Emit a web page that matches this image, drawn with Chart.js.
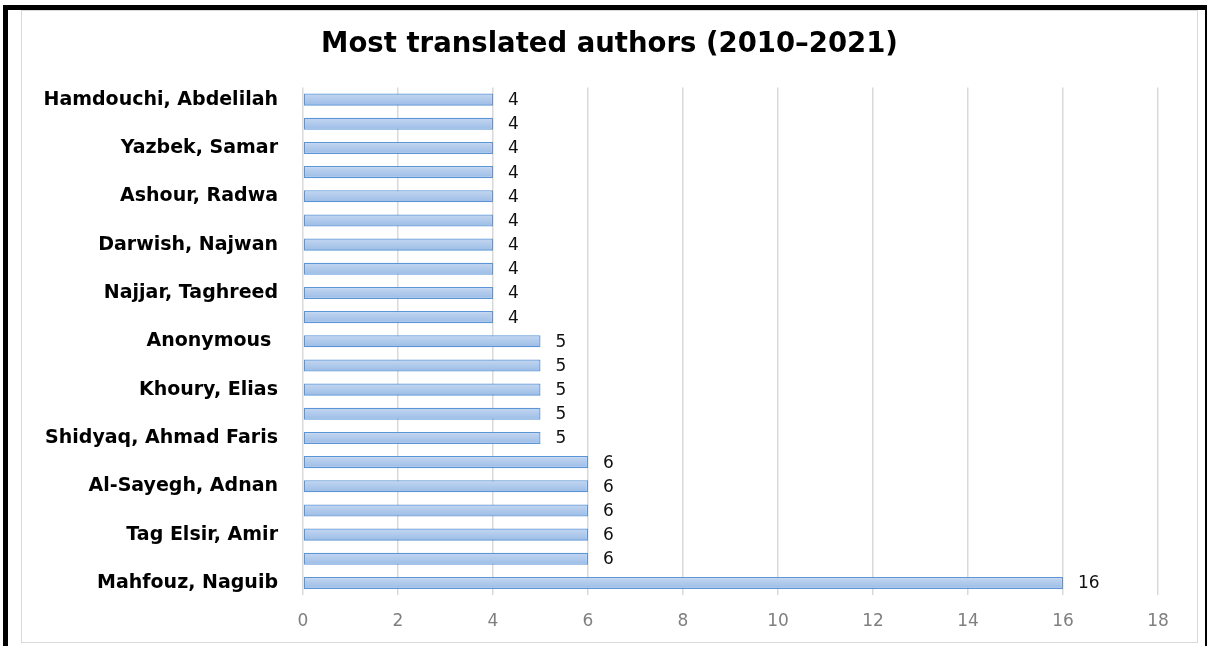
<!DOCTYPE html>
<html>
<head>
<meta charset="utf-8">
<script src="https://cdn.jsdelivr.net/npm/chart.js@4/dist/chart.umd.min.js"></script>
<style>
  html, body { margin: 0; padding: 0; background: #fff; }
  body { width: 1207px; height: 646px; position: relative; overflow: hidden; }
  .frame { position: absolute; left: 3px; top: 5px; width: 1197px; height: 660px;
           border: 5px solid #000; border-bottom: none; box-sizing: content-box; }
  .box { position: absolute; left: 21px; top: 10px; width: 1177px; height: 633px;
         border: 1px solid #d9d9d9; box-sizing: border-box; background: #fff; }
</style>
</head>
<body>
<div class="frame"></div>
<div class="box"><canvas id="chart" width="1175" height="631"></canvas></div>
<script>
// authors, top to bottom; only every other row carries a name on the axis
const authors = [
  'Hamdouchi, Abdelilah', '', 'Yazbek, Samar', '', 'Ashour, Radwa', '',
  'Darwish, Najwan', '', 'Najjar, Taghreed', '', 'Anonymous ', '',
  'Khoury, Elias', '', 'Shidyaq, Ahmad Faris', '', 'Al-Sayegh, Adnan', '',
  'Tag Elsir, Amir', '', 'Mahfouz, Naguib'
];
const translations = [4, 4, 4, 4, 4, 4, 4, 4, 4, 4, 5, 5, 5, 5, 5, 6, 6, 6, 6, 6, 16];
const xTicks = [0, 2, 4, 6, 8, 10, 12, 14, 16, 18];

// light-to-mid blue shading down each bar
const barFill = (context) => {
  const chart = context.chart;
  const y = chart.scales && chart.scales.y;
  if (!y || context.dataIndex === undefined) return '#adc7eb';
  const mid = y.getPixelForValue(context.dataIndex);
  if (!Number.isFinite(mid)) return '#adc7eb';
  const g = chart.ctx.createLinearGradient(0, mid - 6, 0, mid + 6);
  g.addColorStop(0, '#c4d7f1');
  g.addColorStop(1, '#9bbce6');
  return g;
};

// value written just past the end of each bar
const valueLabels = {
  id: 'valueLabels',
  afterDatasetsDraw(chart) {
    const ctx = chart.ctx;
    const meta = chart.getDatasetMeta(0);
    ctx.save();
    ctx.font = '17px "DejaVu Sans"';
    ctx.fillStyle = '#111';
    ctx.textAlign = 'left';
    ctx.textBaseline = 'middle';
    meta.data.forEach((bar, i) => {
      ctx.fillText(String(translations[i]), bar.x + 15, bar.y + 1);
    });
    ctx.restore();
  }
};

// centre the title over the whole box, not just the padded layout width
const centreTitle = {
  id: 'centreTitle',
  afterLayout(chart) {
    const t = chart.titleBlock;
    if (!t) return;
    const shift = chart.width / 2 - (t.left + t.right) / 2;
    t.left += shift;
    t.right += shift;
  }
};

const ctx = document.getElementById('chart').getContext('2d');
new Chart(ctx, {
  type: 'bar',
  data: {
    labels: authors,
    datasets: [{
      data: translations,
      backgroundColor: barFill,
      borderColor: '#5b95d6',
      borderWidth: 1.3,
      borderSkipped: false,
      barPercentage: 0.5,
      categoryPercentage: 1
    }]
  },
  options: {
    indexAxis: 'y',
    responsive: false,
    animation: false,
    layout: { padding: { left: 0, right: 39, top: 0, bottom: 0 } },
    plugins: {
      legend: { display: false },
      tooltip: { enabled: false },
      title: {
        display: true,
        text: 'Most translated authors (2010\u20132021)',
        color: '#000',
        font: { family: '"DejaVu Sans"', size: 27.5, weight: 'bold' },
        padding: { top: 17, bottom: 26.5 }
      }
    },
    scales: {
      x: {
        min: 0,
        max: 18,
        afterBuildTicks: (scale) => { scale.ticks = xTicks.map(v => ({ value: v })); },
        grid: { color: '#d9d9d9', lineWidth: 1.5, drawTicks: false },
        border: { display: false },
        ticks: {
          color: '#7f7f7f',
          font: { family: '"DejaVu Sans"', size: 17 },
          padding: 16
        },
        afterFit: (scale) => { scale.height = 47; }
      },
      y: {
        grid: { display: false },
        border: { display: false },
        ticks: {
          autoSkip: false,
          color: '#000',
          padding: 17,
          font: { family: '"DejaVu Sans"', size: 19, weight: 'bold' }
        },
        afterFit: (scale) => { scale.width = 281; }
      }
    }
  },
  plugins: [valueLabels, centreTitle]
});
</script>
</body>
</html>
